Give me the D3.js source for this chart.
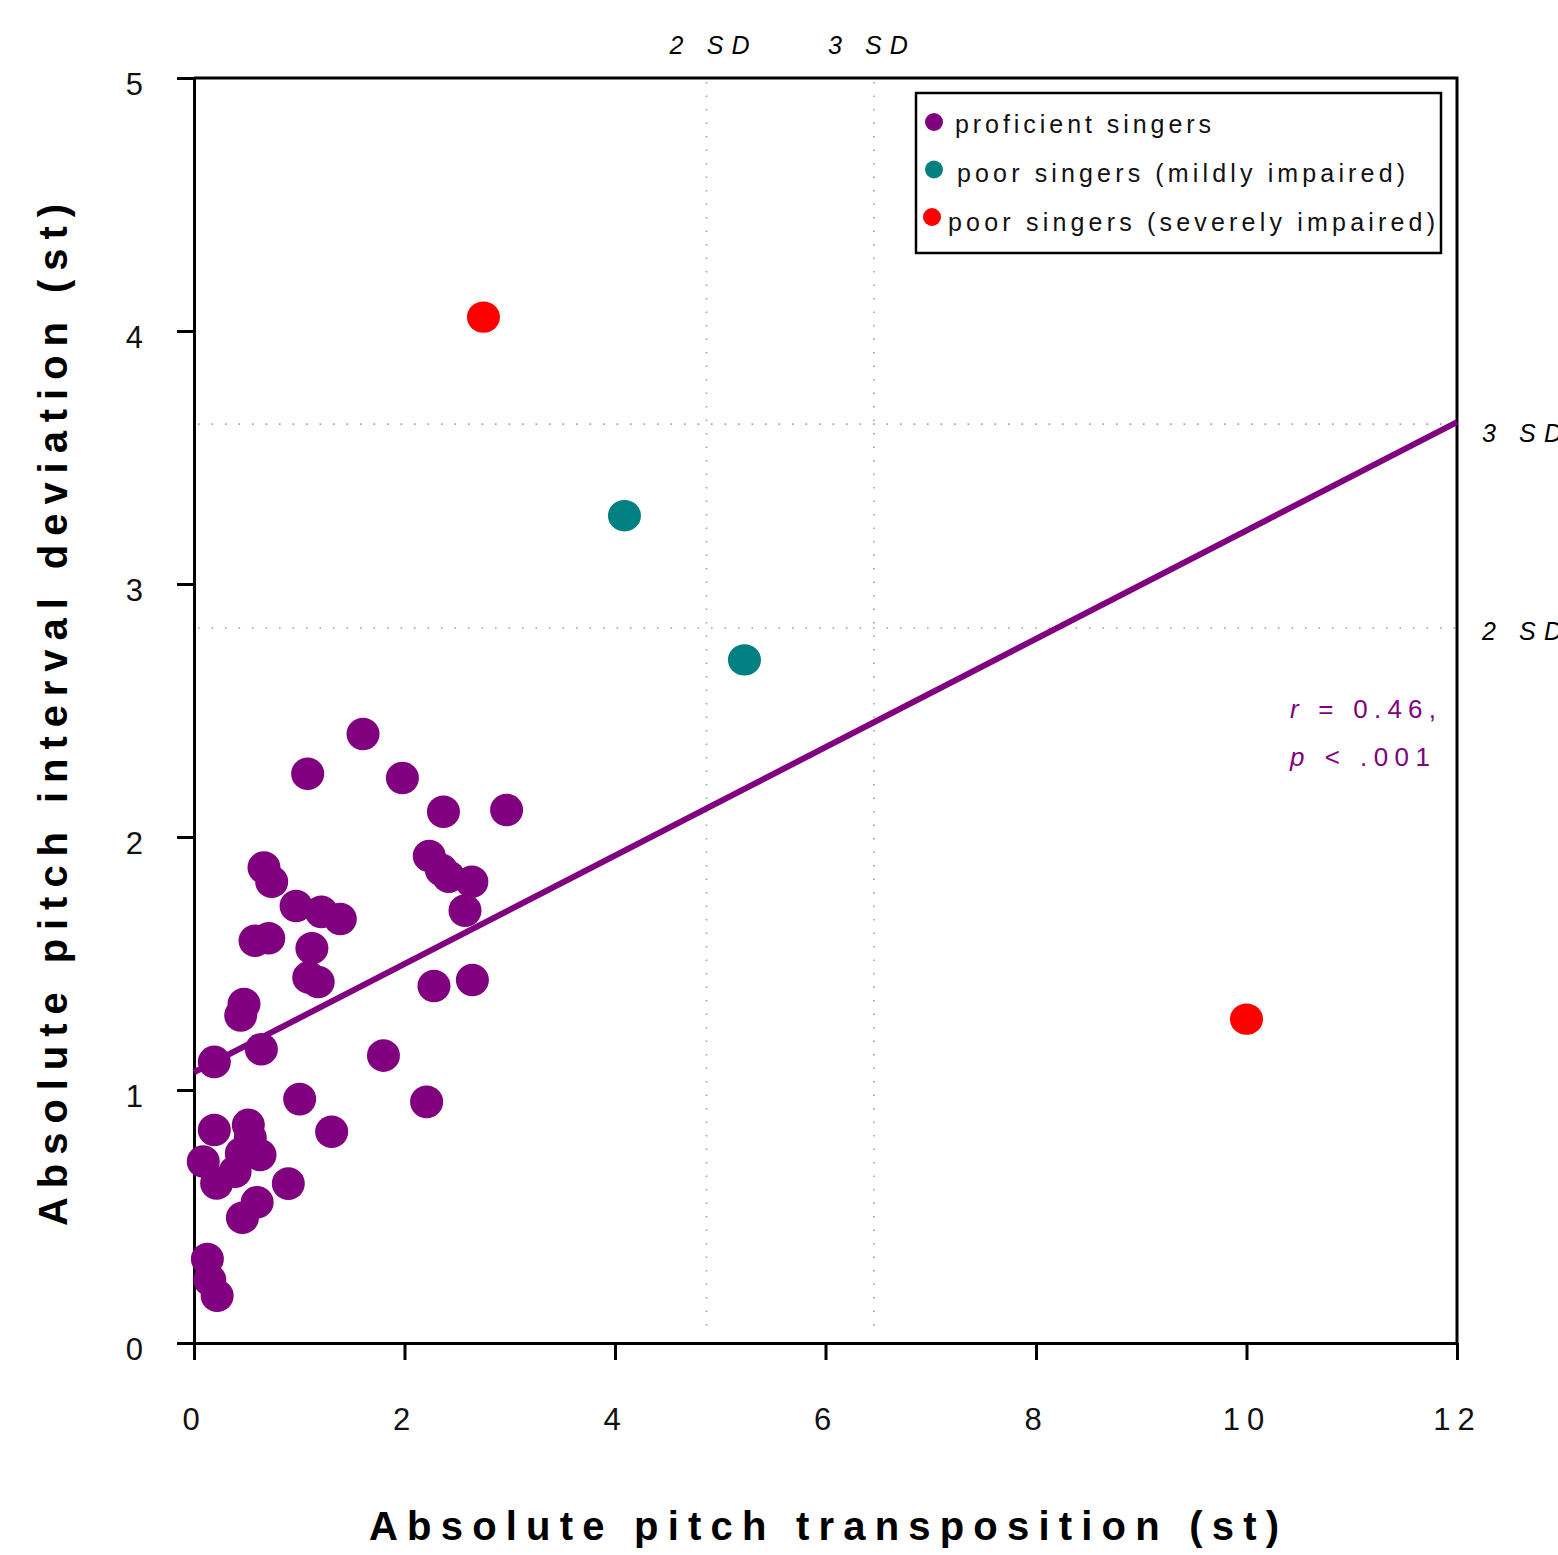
<!DOCTYPE html>
<html>
<head>
<meta charset="utf-8">
<script src="https://cdn.jsdelivr.net/npm/d3@7"></script>
<style>
  body { margin: 0; background: #fff; }
  svg { display: block; font-family: "Liberation Sans", Arial, sans-serif; }
</style>
</head>
<body>
<svg id="chart"></svg>
<script>
// values
const groups = ['proficient singers', 'poor singers (mildly impaired)', 'poor singers (severely impaired)']
const groupColors = ['#800080', '#008080', '#ff0000']

const proficientX = [1.606, 1.08, 1.98, 2.37, 2.97, 0.665, 0.738, 0.97, 1.21, 1.39, 0.58, 0.71, 1.12, 1.09, 1.18,
    2.235, 2.35, 2.42, 2.64, 2.575, 2.28, 2.645, 0.475, 0.444, 0.193, 0.64, 1.80, 1.004, 2.21, 1.308,
    0.193, 0.516, 0.535, 0.627, 0.45, 0.088, 0.39, 0.215, 0.896, 0.60, 0.46, 0.127, 0.15, 0.22]
const proficientY = [2.407, 2.25, 2.233, 2.10, 2.107, 1.879, 1.823, 1.727, 1.704, 1.676, 1.59, 1.60, 1.56, 1.445, 1.427,
    1.925, 1.87, 1.843, 1.823, 1.709, 1.411, 1.435, 1.34, 1.295, 1.111, 1.161, 1.136, 0.964, 0.953, 0.835,
    0.842, 0.862, 0.81, 0.743, 0.75, 0.717, 0.677, 0.631, 0.63, 0.556, 0.495, 0.332, 0.249, 0.187]
const mildX = [4.09, 5.23]
const mildY = [3.27, 2.70]
const severeX = [2.75, 10.0]
const severeY = [4.055, 1.28]

const fitX = [0, 12]
const fitY = [1.07, 3.64]

const sdLabels = ['2 SD', '3 SD']
const sdX = [4.87, 6.46]
const sdY = [2.826, 3.632]

const xTicks = [0, 2, 4, 6, 8, 10, 12]
const yTicks = [0, 1, 2, 3, 4, 5]
const statLines = ['r = 0.46,', 'p < .001']

class ScatterPlot {
    constructor(_config) {
        this.config = {
            parentElement: _config.parentElement,
            containerWidth: _config.containerWidth || 1558,
            containerHeight: _config.containerHeight || 1555,
            margin: {top: 78, right: 101, bottom: 212, left: 194},
        }
        this.initVis()
    }

    initVis() {
        let vis = this
        vis.width = vis.config.containerWidth - vis.config.margin.left - vis.config.margin.right
        vis.height = vis.config.containerHeight - vis.config.margin.top - vis.config.margin.bottom

        vis.svg = d3.select(vis.config.parentElement)
            .attr('width', vis.config.containerWidth)
            .attr('height', vis.config.containerHeight)

        vis.chart = vis.svg.append('g')
            .attr('transform', `translate(${vis.config.margin.left},${vis.config.margin.top})`)

        vis.xScale = d3.scaleLinear().domain([0, 12]).range([0, vis.width])
        vis.yScale = d3.scaleLinear().domain([0, 5]).range([vis.height, 0])

        vis.points = []
        proficientX.forEach((x, i) => vis.points.push({x: x, y: proficientY[i], g: 0}))
        mildX.forEach((x, i) => vis.points.push({x: x, y: mildY[i], g: 1}))
        severeX.forEach((x, i) => vis.points.push({x: x, y: severeY[i], g: 2}))

        vis.renderVis()
    }

    renderVis() {
        let vis = this
        const dotted = sel => sel.attr('stroke', '#a0a0a0').attr('stroke-width', 1.6).attr('stroke-dasharray', '1.6 11.9')

        // SD reference lines
        vis.chart.selectAll('.sd-v')
            .data(sdX)
            .join('line')
                .attr('class', 'sd-v')
                .attr('x1', d => vis.xScale(d)).attr('x2', d => vis.xScale(d))
                .attr('y1', 4).attr('y2', vis.height - 10)
                .call(dotted)
        vis.chart.selectAll('.sd-h')
            .data(sdY)
            .join('line')
                .attr('class', 'sd-h')
                .attr('x1', 4).attr('x2', vis.width - 2)
                .attr('y1', d => vis.yScale(d)).attr('y2', d => vis.yScale(d))
                .call(dotted)

        // frame (top and right)
        vis.chart.append('path')
            .attr('d', `M0,0H${vis.width}V${vis.height}`)
            .attr('fill', 'none').attr('stroke', '#000').attr('stroke-width', 3)

        // axes
        vis.xAxis = d3.axisBottom(vis.xScale).tickValues(xTicks).tickFormat(d3.format('d'))
            .tickSize(17).tickPadding(0).tickSizeOuter(0)
        vis.yAxis = d3.axisLeft(vis.yScale).tickValues(yTicks).tickFormat(d3.format('d'))
            .tickSize(17).tickPadding(0).tickSizeOuter(0)

        vis.xAxisG = vis.chart.append('g')
            .attr('transform', `translate(0,${vis.height})`)
            .call(vis.xAxis)
        vis.yAxisG = vis.chart.append('g').call(vis.yAxis)

        vis.chart.selectAll('.domain, .tick line').attr('stroke', '#000').attr('stroke-width', 3)
        vis.chart.selectAll('.tick text')
            .attr('fill', '#111').attr('font-size', 31).attr('font-family', '"Liberation Sans", Arial, sans-serif')
        vis.xAxisG.selectAll('.tick text').attr('y', 87).attr('dy', 0).attr('letter-spacing', 7)
        vis.yAxisG.selectAll('.tick text').attr('x', -51).attr('dy', 16)

        // regression line
        vis.chart.append('line')
            .attr('x1', vis.xScale(fitX[0])).attr('y1', vis.yScale(fitY[0]))
            .attr('x2', vis.xScale(fitX[1])).attr('y2', vis.yScale(fitY[1]))
            .attr('stroke', '#800080').attr('stroke-width', 6)

        // points
        vis.chart.selectAll('.pt')
            .data(vis.points)
            .join('ellipse')
                .attr('class', 'pt')
                .attr('cx', d => vis.xScale(d.x))
                .attr('cy', d => vis.yScale(d.y))
                .attr('rx', 16.5)
                .attr('ry', d => d.g == 0 ? 16.3 : 15.7)
                .attr('fill', d => groupColors[d.g])

        // SD labels, top and right
        const topDx = [3, -6]
        vis.chart.selectAll('.sd-top')
            .data(sdLabels)
            .join('text')
                .attr('class', 'sd-top')
                .attr('x', (d, i) => vis.xScale(sdX[i]) + topDx[i])
                .attr('y', -24)
                .attr('text-anchor', 'middle')
                .attr('font-size', 25).attr('font-style', 'italic')
                .attr('textLength', 80).attr('lengthAdjust', 'spacing')
                .text(d => d)
        const rightDy = [12, 18]
        vis.chart.selectAll('.sd-right')
            .data(sdLabels)
            .join('text')
                .attr('class', 'sd-right')
                .attr('x', vis.width + 25)
                .attr('y', (d, i) => vis.yScale(sdY[i]) + rightDy[i])
                .attr('font-size', 25).attr('font-style', 'italic')
                .attr('textLength', 80).attr('lengthAdjust', 'spacing')
                .text(d => d)

        // correlation
        const stat = vis.chart.selectAll('.stat')
            .data(statLines)
            .join('text')
                .attr('class', 'stat')
                .attr('x', 1096)
                .attr('y', (d, i) => 640 + i * 48)
                .attr('fill', '#800080').attr('font-size', 26)
                .attr('textLength', (d, i) => [146, 140][i]).attr('lengthAdjust', 'spacing')
        stat.append('tspan').attr('font-style', 'italic').text(d => d.slice(0, 1))
        stat.append('tspan').text(d => d.slice(1))

        // legend
        const legend = vis.svg.append('g')
        legend.append('rect')
            .attr('x', 916).attr('y', 93).attr('width', 525).attr('height', 160)
            .attr('fill', '#fff').attr('stroke', '#000').attr('stroke-width', 2.5)
        const legendX = [955, 957, 948]
        const legendLen = [256, 448, 487]
        const dotX = [934, 934, 932]
        groups.forEach((g, i) => {
            legend.append('circle')
                .attr('cx', dotX[i]).attr('cy', 122 + i * 47.5).attr('r', 9)
                .attr('fill', groupColors[i])
            legend.append('text')
                .attr('x', legendX[i]).attr('y', 133 + i * 49)
                .attr('font-size', 25).attr('fill', '#111')
                .attr('textLength', legendLen[i]).attr('lengthAdjust', 'spacing')
                .text(g)
        })

        // axis titles
        vis.svg.append('text')
            .attr('x', 824).attr('y', 1540)
            .attr('text-anchor', 'middle')
            .attr('font-size', 40).attr('font-weight', 'bold')
            .attr('textLength', 910).attr('lengthAdjust', 'spacing')
            .text('Absolute pitch transposition (st)')
        vis.svg.append('text')
            .attr('transform', 'translate(67,715) rotate(-90)')
            .attr('text-anchor', 'middle')
            .attr('font-size', 40).attr('font-weight', 'bold')
            .attr('textLength', 1022).attr('lengthAdjust', 'spacing')
            .text('Absolute pitch interval deviation (st)')
    }
}

new ScatterPlot({parentElement: '#chart'})
</script>
</body>
</html>
